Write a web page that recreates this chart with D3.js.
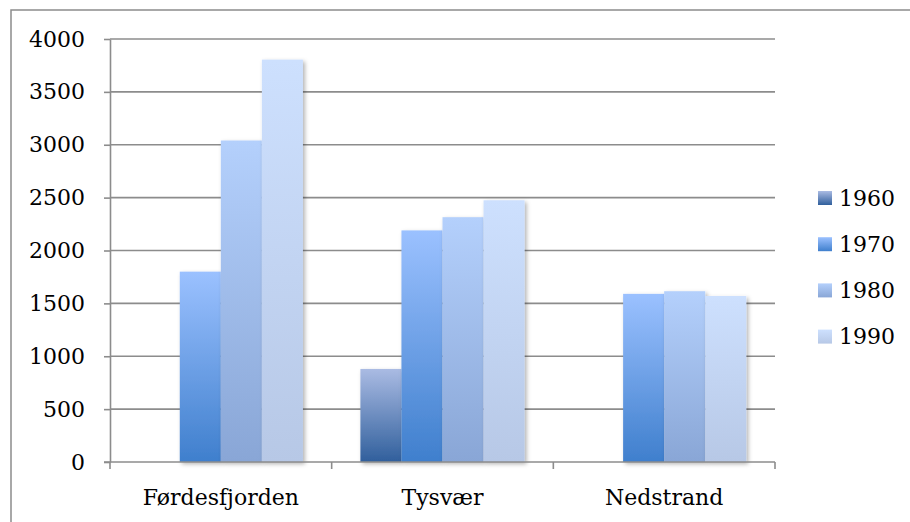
<!DOCTYPE html>
<html>
<head>
<meta charset="utf-8">
<script src="https://cdn.jsdelivr.net/npm/d3@7"></script>
<style>
  html, body { margin: 0; padding: 0; background: #fff; }
  svg { display: block; }
</style>
</head>
<body>
<svg id="chart" width="910" height="522"></svg>
<script>
const categories = ["Førdesfjorden", "Tysvær", "Nedstrand"];
const series = ["1960", "1970", "1980", "1990"];
const values1960 = [null, 880, null];
const values1970 = [1800, 2190, 1590];
const values1980 = [3040, 2315, 1615];
const values1990 = [3805, 2475, 1570];
const yTicks = [0, 500, 1000, 1500, 2000, 2500, 3000, 3500, 4000];

const seriesValues = [values1960, values1970, values1980, values1990];
const gradColors = [
  ["#aabbe3", "#305f9c"],
  ["#9bc1ff", "#3f7fcd"],
  ["#b4d0fc", "#89a6d6"],
  ["#cde0fe", "#b7c8e6"]
];

const FONT = "'DejaVu Serif', 'Liberation Serif', serif";
const svg = d3.select("#chart");
const defs = svg.append("defs");

series.forEach((s, i) => {
  const g = defs.append("linearGradient")
    .attr("id", "grad" + s)
    .attr("x1", 0).attr("y1", 0).attr("x2", 0).attr("y2", 1);
  g.append("stop").attr("offset", "0%").attr("stop-color", gradColors[i][0]);
  g.append("stop").attr("offset", "100%").attr("stop-color", gradColors[i][1]);
});

const f = defs.append("filter").attr("id", "shadow")
  .attr("x", "-20%").attr("y", "-5%").attr("width", "150%").attr("height", "115%");
f.append("feDropShadow").attr("dx", 2).attr("dy", 2).attr("stdDeviation", 2)
  .attr("flood-color", "#000").attr("flood-opacity", 0.3);

// outer border
svg.append("rect")
  .attr("x", 11).attr("y", 10).attr("width", 1000).attr("height", 1000)
  .attr("fill", "none").attr("stroke", "#8c8c8c").attr("stroke-width", 1.5);

const x0 = d3.scaleBand().domain(categories).range([110, 775]).padding(0);
const x1 = d3.scaleBand().domain(series).range([0, x0.bandwidth()]).paddingInner(0).paddingOuter(0.7);
const y = d3.scaleLinear().domain([0, 4000]).range([462, 39]);

// gridlines
svg.append("g").selectAll("line")
  .data(yTicks.filter(d => d > 0))
  .join("line")
  .attr("x1", 110).attr("x2", 775)
  .attr("y1", d => y(d)).attr("y2", d => y(d))
  .attr("stroke", "#8c8c8c").attr("stroke-width", 1.6);

// bars
const groups = svg.append("g").selectAll("g")
  .data(categories)
  .join("g")
  .attr("transform", d => `translate(${x0(d)},0)`);

groups.selectAll("rect")
  .data((c, ci) => series.map((s, si) => ({ s, v: seriesValues[si][ci] })).filter(d => d.v != null))
  .join("rect")
  .attr("x", d => x1(d.s))
  .attr("width", x1.bandwidth())
  .attr("y", d => y(d.v))
  .attr("height", d => y(0) - y(d.v))
  .attr("fill", d => `url(#grad${d.s})`)
  .attr("filter", "url(#shadow)");

// y axis
const yAxis = d3.axisLeft(y).tickValues(yTicks).tickFormat(d3.format("d"))
  .tickSize(6).tickPadding(19).tickSizeOuter(0);
const yg = svg.append("g").attr("transform", "translate(110,0)").call(yAxis);
yg.select(".domain").attr("stroke", "#8c8c8c").attr("stroke-width", 1.6);
yg.selectAll(".tick line").attr("stroke", "#8c8c8c").attr("stroke-width", 1.6);
yg.selectAll(".tick text").attr("font-family", FONT).attr("font-size", 22).attr("fill", "#000");

// x axis
const xAxis = d3.axisBottom(x0).tickSize(0).tickPadding(0).tickSizeOuter(0);
const xg = svg.append("g").attr("transform", "translate(0,462)").call(xAxis);
xg.select(".domain").attr("stroke", "#8c8c8c").attr("stroke-width", 1.6).attr("d", "M104,0H775");
xg.selectAll(".tick text").attr("font-family", FONT).attr("font-size", 22).attr("fill", "#000")
  .attr("dy", 0).attr("y", 43);
// category boundary ticks
xg.append("g").selectAll("line")
  .data(categories.map(c => x0(c)).concat([x0.range()[1]]))
  .join("line")
  .attr("x1", d => d).attr("x2", d => d)
  .attr("y1", 0).attr("y2", 7)
  .attr("stroke", "#8c8c8c").attr("stroke-width", 1.6);

// legend
const legend = svg.append("g").attr("transform", "translate(818,198)");
const li = legend.selectAll("g").data(series).join("g")
  .attr("transform", (d, i) => `translate(0,${i * 46.2})`);
li.append("rect").attr("x", 0).attr("y", -7).attr("width", 14).attr("height", 14)
  .attr("fill", d => `url(#grad${d})`);
li.append("text").attr("x", 21).attr("y", 0).attr("dy", "0.35em")
  .attr("font-family", FONT).attr("font-size", 22).attr("fill", "#000")
  .text(d => d);
</script>
</body>
</html>
